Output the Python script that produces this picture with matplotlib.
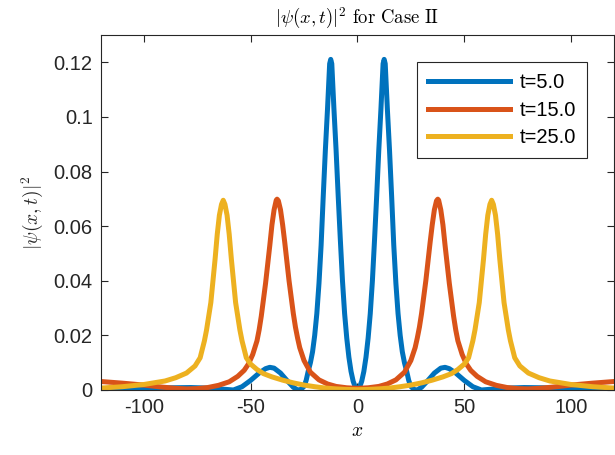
import matplotlib.pyplot as plt

# values (x, |psi|^2)
x_t5 = [-120, -100, -88, -78, -70, -63, -58, -54, -50, -46, -43, -41, -39, -36, -33, -30, -28, -26.5,
        -25, -24, -23, -22, -21, -20, -19, -18, -17, -16, -15, -14, -13, -12.5, -12, -11, -10, -9, -8,
        -7, -6, -5, -4, -3, -2, -1, 0,
        1, 2, 3, 4, 5, 6, 7, 8, 9, 10, 11, 12, 12.5, 13, 14, 15, 16, 17, 18, 19, 20, 21, 22, 23, 24, 25,
        26.5, 28, 30, 33, 36, 39, 41, 43, 46, 50, 54, 58, 63, 70, 78, 88, 100, 120]
y_t5 = [0.0002, 0.0004, 0.0008, 0.0009, 0.0007, 0.0003, 0.0, 0.0012, 0.0035, 0.0062, 0.0078, 0.0083,
        0.0080, 0.0062, 0.0035, 0.0010, 0.0, 0.0002,
        0.0013, 0.0035, 0.007, 0.010, 0.014, 0.020, 0.028, 0.039, 0.053, 0.071, 0.088, 0.103, 0.1195,
        0.1211, 0.1195, 0.103, 0.088, 0.071, 0.055, 0.040, 0.028, 0.019, 0.012, 0.0068, 0.0032, 0.001, 0.0,
        0.001, 0.0032, 0.0068, 0.012, 0.019, 0.028, 0.040, 0.055, 0.071, 0.088, 0.103, 0.1195, 0.1211,
        0.1195, 0.103, 0.088, 0.071, 0.053, 0.039, 0.028, 0.020, 0.014, 0.010, 0.007, 0.0035, 0.0013,
        0.0002, 0.0, 0.0010, 0.0035, 0.0062, 0.0080, 0.0083, 0.0078, 0.0062, 0.0035, 0.0012, 0.0, 0.0003,
        0.0007, 0.0009, 0.0008, 0.0004, 0.0002]

x_t15 = [-120, -110, -100, -92, -85, -80, -75, -70, -65, -60, -56, -53, -51, -49, -47, -46, -45, -44,
         -43, -42, -41, -40, -39, -38, -37.6, -37, -36, -35, -34, -33, -32, -31, -30, -29, -28, -27, -25,
         -22, -18, -14, -10, -5, 0,
         5, 10, 14, 18, 22, 25, 27, 28, 29, 30, 31, 32, 33, 34, 35, 36, 37, 37.6, 38, 39, 40, 41, 42, 43,
         44, 45, 46, 47, 49, 51, 53, 56, 60, 65, 70, 75, 80, 85, 92, 100, 110, 120]
y_t15 = [0.0031, 0.0025, 0.0018, 0.0011, 0.0006, 0.0004, 0.0005, 0.0009, 0.0017, 0.0030, 0.0050,
         0.0072, 0.0095, 0.013, 0.018, 0.022, 0.027, 0.033, 0.039, 0.046, 0.053, 0.0605, 0.066, 0.0695,
         0.0699, 0.0693, 0.066, 0.0605, 0.054, 0.047, 0.040, 0.034, 0.028, 0.023, 0.019, 0.0155, 0.0108,
         0.0065, 0.0037, 0.0022, 0.0013, 0.0008, 0.0006,
         0.0008, 0.0013, 0.0022, 0.0037, 0.0065, 0.0108, 0.0155, 0.019, 0.023, 0.028, 0.034, 0.040,
         0.047, 0.054, 0.0605, 0.066, 0.0693, 0.0699, 0.0695, 0.066, 0.0605, 0.053, 0.046, 0.039, 0.033,
         0.027, 0.022, 0.018, 0.013, 0.0095, 0.0072, 0.0050, 0.0030, 0.0017, 0.0009, 0.0005, 0.0004,
         0.0006, 0.0011, 0.0018, 0.0025, 0.0031]

x_t25 = [-120, -110, -100, -90, -85, -80, -76, -73.6, -71.6, -70.6, -69.6, -68.6, -67.6, -66.6, -65.6,
         -64.6, -63.6, -62.8, -62, -61, -60, -59, -58, -57, -56, -55, -54, -52, -50, -47, -44, -40, -35,
         -30, -25, -20, -15, -10, -5, 0,
         5, 10, 15, 20, 25, 30, 35, 40, 44, 47, 50, 52, 54, 55, 56, 57, 58, 59, 60, 61, 62, 62.8, 63.6,
         64.6, 65.6, 66.6, 67.6, 68.6, 69.6, 70.6, 71.6, 73.6, 76, 80, 85, 90, 100, 110, 120]
y_t25 = [0.0007, 0.0012, 0.0020, 0.0033, 0.0045, 0.0062, 0.0088, 0.0118, 0.018, 0.022, 0.027, 0.032,
         0.040, 0.048, 0.057, 0.064, 0.068, 0.0695, 0.068, 0.064, 0.057, 0.048, 0.040, 0.032, 0.027,
         0.022, 0.018, 0.0118, 0.0095, 0.0075, 0.006, 0.0048, 0.0036, 0.0026, 0.0018, 0.0012, 0.0007,
         0.0004, 0.0002, 0.0001,
         0.0002, 0.0004, 0.0007, 0.0012, 0.0018, 0.0026, 0.0036, 0.0048, 0.006, 0.0075, 0.0095, 0.0118,
         0.018, 0.022, 0.027, 0.032, 0.040, 0.048, 0.057, 0.064, 0.068, 0.0695, 0.068, 0.064, 0.057,
         0.048, 0.040, 0.032, 0.027, 0.022, 0.018, 0.0118, 0.0088, 0.0062, 0.0045, 0.0033, 0.0020,
         0.0012, 0.0007]

labels = ["t=5.0", "t=15.0", "t=25.0"]
colors = ["#0072BD", "#D95319", "#EDB120"]
xticks = [-100, -50, 0, 50, 100]
yticks = [0, 0.02, 0.04, 0.06, 0.08, 0.1, 0.12]
ytick_labels = ["0", "0.02", "0.04", "0.06", "0.08", "0.1", "0.12"]

plt.rcParams['mathtext.fontset'] = 'cm'
plt.rcParams['font.family'] = ['Liberation Sans', 'DejaVu Sans']

fig = plt.figure(figsize=(6.15, 4.55), dpi=100)
ax = fig.add_axes([0.1642, 0.1429, 0.834, 0.780])

for xs, ys, lab, c in zip([x_t5, x_t15, x_t25], [y_t5, y_t15, y_t25], labels, colors):
    ax.plot(xs, ys, color=c, lw=3.6, label=lab, solid_joinstyle='round')

ax.set_xlim(-120, 120)
ax.set_ylim(0, 0.13)
ax.set_xticks(xticks)
ax.set_xticklabels([str(v) for v in xticks])
ax.set_yticks(yticks)
ax.set_yticklabels(ytick_labels)
ax.tick_params(direction='in', top=True, right=True, length=5, width=0.8,
               colors='#262626', labelsize=14.5, pad=6)
for s in ax.spines.values():
    s.set_color('#262626')
    s.set_linewidth(0.8)

ax.set_title(r'$|\psi(x,t)|^2\ \mathrm{for\ Case\ II}$', fontsize=13.5, pad=8)
ax.set_xlabel(r'$x$', fontsize=14, labelpad=4)
ax.set_ylabel(r'$|\psi(x,t)|^2$', fontsize=14, labelpad=6, color='#262626')

leg = ax.legend(loc='upper right', bbox_to_anchor=(0.947, 0.924), borderaxespad=0,
                fontsize=14.5, handlelength=4.1, handletextpad=0.45, labelspacing=0.42,
                borderpad=0.55, fancybox=False, framealpha=1, edgecolor='#262626')
leg.get_frame().set_linewidth(0.8)

fig.savefig('out.png', dpi=100)
